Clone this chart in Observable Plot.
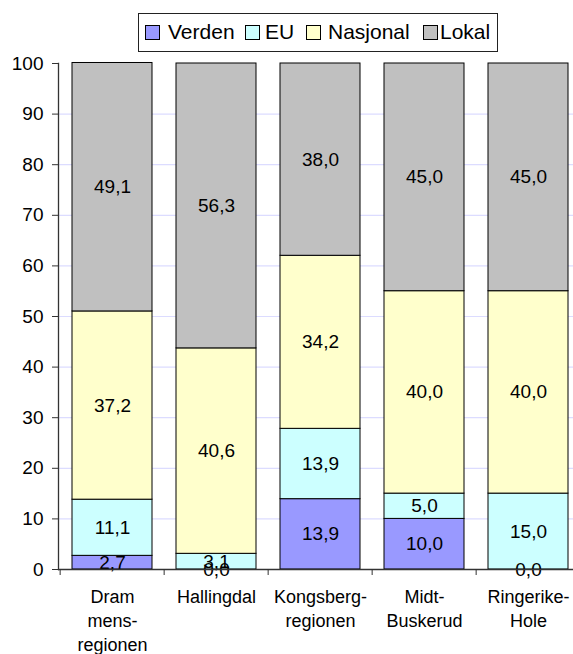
<!DOCTYPE html>
<html>
<head>
<meta charset="utf-8">
<script src="https://cdn.jsdelivr.net/npm/d3@7"></script>
<script src="https://cdn.jsdelivr.net/npm/@observablehq/plot@0.6"></script>
<style>
  html, body { margin: 0; padding: 0; background: white; overflow: hidden; }
  body { width: 573px; height: 654px; font-family: "Liberation Sans", Arial, sans-serif; }
  #legend { position: relative; height: 45px; }
  #legendBox { position: absolute; left: 138px; top: 13px; width: 358px; height: 37px; border: 1px solid #222;
    font-size: 21px; color: #000; box-sizing: content-box; z-index: 2; background: white; }
  .sw { position: absolute; top: 11px; width: 13px; height: 13px; border: 1px solid #000; }
  .lt { position: absolute; top: 6px; line-height: 24px; white-space: nowrap; }
  #chart svg { overflow: visible; display: block; }
</style>
</head>
<body>
<div id="legend"><div id="legendBox"></div></div>
<div id="chart"></div>
<script>
const categories = ["Drammensregionen", "Hallingdal", "Kongsbergregionen", "Midt-Buskerud", "Ringerike-Hole"];
const categoryLabels = ["Dram\nmens-\nregionen", "Hallingdal", "Kongsberg-\nregionen", "Midt-\nBuskerud", "Ringerike-\nHole"];
const series = ["Verden", "EU", "Nasjonal", "Lokal"];
const verden = [2.7, 0.0, 13.9, 10.0, 0.0];
const eu = [11.1, 3.1, 13.9, 5.0, 15.0];
const nasjonal = [37.2, 40.6, 34.2, 40.0, 40.0];
const lokal = [49.1, 56.3, 38.0, 45.0, 45.0];
const colors = ["#9999ff", "#ccffff", "#ffffcc", "#c0c0c0"];
const yTicks = [0, 10, 20, 30, 40, 50, 60, 70, 80, 90, 100];
const gridTicks = [10, 20, 30, 40, 50, 60, 70, 80, 90];

const valuesBySeries = [verden, eu, nasjonal, lokal];
const data = [];
categories.forEach((c, i) => {
  series.forEach((s, j) => data.push({category: c, series: s, value: valuesBySeries[j][i]}));
});
const fmt = v => v.toFixed(1).replace(".", ",");
const labelOf = new Map(categories.map((c, i) => [c, categoryLabels[i]]));

// legend (positions relative to the box)
const box = document.getElementById("legendBox");
const swatchLeft = [6, 106, 167, 284];
const textLeft = [29, 126, 189, 301];
series.forEach((s, j) => {
  const sw = document.createElement("div");
  sw.className = "sw";
  sw.style.left = swatchLeft[j] + "px";
  sw.style.background = colors[j];
  const t = document.createElement("span");
  t.className = "lt";
  t.style.left = textLeft[j] + "px";
  t.textContent = s;
  box.appendChild(sw); box.appendChild(t);
});

const xRange = [58, 581.5];
const halfStep = (xRange[1] - xRange[0]) / categories.length / 2;

const chart = Plot.plot({
  width: 573,
  height: 609,
  marginTop: 18,
  marginBottom: 85,
  marginLeft: 58,
  marginRight: 0,
  style: {fontFamily: "Liberation Sans, Arial, sans-serif", fontSize: "18px", color: "#000", background: "white"},
  x: {domain: categories, range: xRange, paddingInner: 0.226, paddingOuter: 0.113, axis: null},
  y: {domain: [0, 100], axis: null},
  color: {domain: series, range: colors},
  marks: [
    Plot.ruleY(gridTicks, {stroke: "#dcdcff", strokeWidth: 1.2}),
    Plot.barY(data, Plot.stackY({x: "category", y: "value", z: "series", fill: "series", stroke: "#000", strokeWidth: 1, order: series})),
    Plot.text(data, Plot.stackY({x: "category", y: "value", z: "series", order: series, text: d => fmt(d.value), fill: "#000", fontSize: 19})),
    Plot.frame({anchor: "left", stroke: "#333", strokeWidth: 1.3}),
    Plot.ruleY([0], {stroke: "#333", strokeWidth: 1.3}),
    Plot.axisY({ticks: yTicks, tickSize: 6, tickPadding: 9, stroke: "#333", fill: "#000", fontSize: 19, label: null}),
    Plot.axisX({ticks: categories, tickSize: 6, text: null, dx: -halfStep, stroke: "#333", label: null}),
    Plot.axisX({ticks: categories, tickSize: 0, tickPadding: 16, tickFormat: d => labelOf.get(d), lineHeight: 1.35, fontSize: 18, fill: "#000", label: null})
  ]
});
document.getElementById("chart").appendChild(chart);
</script>
</body>
</html>
